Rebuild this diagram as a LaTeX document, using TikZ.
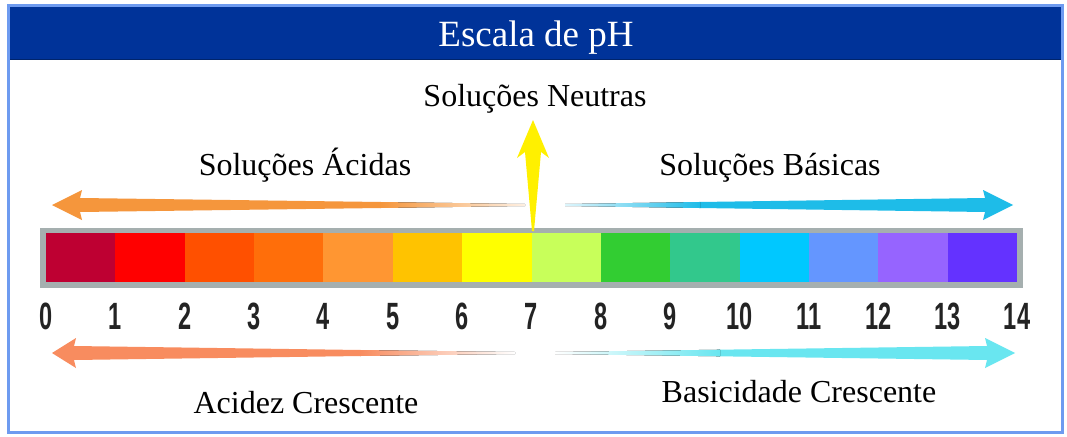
\documentclass[tikz,border=0pt]{standalone}
\usepackage{fontspec}
\setmainfont{Liberation Serif}
\newfontfamily\numfont{Liberation Sans}
\definecolor{frameblue}{RGB}{110,155,240}
\definecolor{titleblue}{RGB}{0,51,153}
\definecolor{bargray}{RGB}{165,175,175}
\definecolor{numblack}{RGB}{35,35,35}
\definecolor{acidorange}{RGB}{245,150,60}
\definecolor{baseblue}{RGB}{30,188,232}
\definecolor{acidsalmon}{RGB}{248,140,95}
\definecolor{basecyan}{RGB}{105,230,240}
\definecolor{neutralyellow}{RGB}{255,240,0}
\definecolor{ph0}{RGB}{190,0,50}
\definecolor{ph1}{RGB}{255,0,0}
\definecolor{ph2}{RGB}{255,80,0}
\definecolor{ph3}{RGB}{255,110,10}
\definecolor{ph4}{RGB}{255,150,50}
\definecolor{ph5}{RGB}{255,195,0}
\definecolor{ph6}{RGB}{255,255,0}
\definecolor{ph7}{RGB}{200,255,90}
\definecolor{ph8}{RGB}{50,205,50}
\definecolor{ph9}{RGB}{50,200,140}
\definecolor{ph10}{RGB}{0,200,255}
\definecolor{ph11}{RGB}{100,150,255}
\definecolor{ph12}{RGB}{150,100,255}
\definecolor{ph13}{RGB}{100,50,255}

\begin{document}
\begin{tikzpicture}[x=1pt,y=-1pt,
    lbl/.style={font=\fontsize{32}{38}\selectfont,inner sep=0pt,anchor=base},
    phnum/.style={font=\numfont\bfseries\fontsize{38}{40}\selectfont,inner sep=0pt,text=numblack}]
    \useasboundingbox (0,0) rectangle (1067,436);
    \fill[white] (0,0) rectangle (1067,436);
    \fill[titleblue] (8,6) rectangle (1062,60);
    \draw[titleblue!70!black,line width=1.5] (8,59.5) -- (1062,59.5);
    \draw[frameblue,line width=3] (8,6) rectangle (1062,432);
    \node[lbl,text=white,font=\fontsize{37}{42}\selectfont] (title) at (536,47) {Escala de pH};
    \node[lbl] (neutras) at (535,106) {Soluções Neutras};
    \node[lbl] (acidas) at (305,175) {Soluções Ácidas};
    \node[lbl] (basicas) at (770,175) {Soluções Básicas};
    \node[lbl] (acidez) at (306,413) {Acidez Crescente};
    \node[lbl] (basicidade) at (799,402) {Basicidade Crescente};
    \fill[bargray] (40,228) rectangle (1023,288);
    \foreach \i in {0,...,13}
        \fill[ph\i] ({46+69.36*\i},233) rectangle ({46+69.36*(\i+1)},282);
    \foreach \i in {0,...,14}
        \node[phnum] (n\i) at ({46+69.36*\i},316.5) {\scalebox{0.62}[1]{\i}};
    \coordinate (acidtip) at (52,205);
    \coordinate (basetip) at (1013,205);
    \coordinate (neutraltip) at (533,120);
    \coordinate (neutralfoot) at (533,231);
    \coordinate (acidlow) at (52,353);
    \coordinate (baselow) at (1015,353);
    \fill[acidorange]
        (acidtip) -- ++(30,-15) -- ++(-2,8) -- (381,202) -- (381,208) -- (80,212) -- (82,220) -- cycle;
    \fill[left color=acidorange,right color=white!85!acidorange]
        (380,202) -- (525,204) -- (525,206) -- (380,208) -- cycle;
    \fill[baseblue]
        (basetip) -- ++(-30,-15) -- ++(2,8) -- (699,202) -- (699,208) -- (985,212) -- (983,220) -- cycle;
    \fill[left color=white!85!baseblue,right color=baseblue]
        (565,204) -- (700,202) -- (700,208) -- (565,206) -- cycle;
    \fill[neutralyellow]
        (neutraltip) -- ++(16,38) -- ++(-8,-6) -- ([xshift=1pt]neutralfoot) -- ([xshift=-1pt]neutralfoot) -- (525,152) -- (517,158) -- cycle;
    \fill[acidsalmon]
        (acidlow) -- ++(24,-15) -- ++(-2,8) -- (361,350) -- (361,356) -- (74,360) -- (76,368) -- cycle;
    \fill[left color=acidsalmon,right color=white]
        (360,350) -- (515,352) -- (515,354) -- (360,356) -- cycle;
    \fill[basecyan]
        (baselow) -- ++(-30,-15) -- ++(2,8) -- (719,349.7) -- (719,356.3) -- (987,360) -- (985,368) -- cycle;
    \fill[left color=white,right color=basecyan]
        (555,352) -- (720,349.7) -- (720,356.3) -- (555,354) -- cycle;
\end{tikzpicture}
\end{document}
